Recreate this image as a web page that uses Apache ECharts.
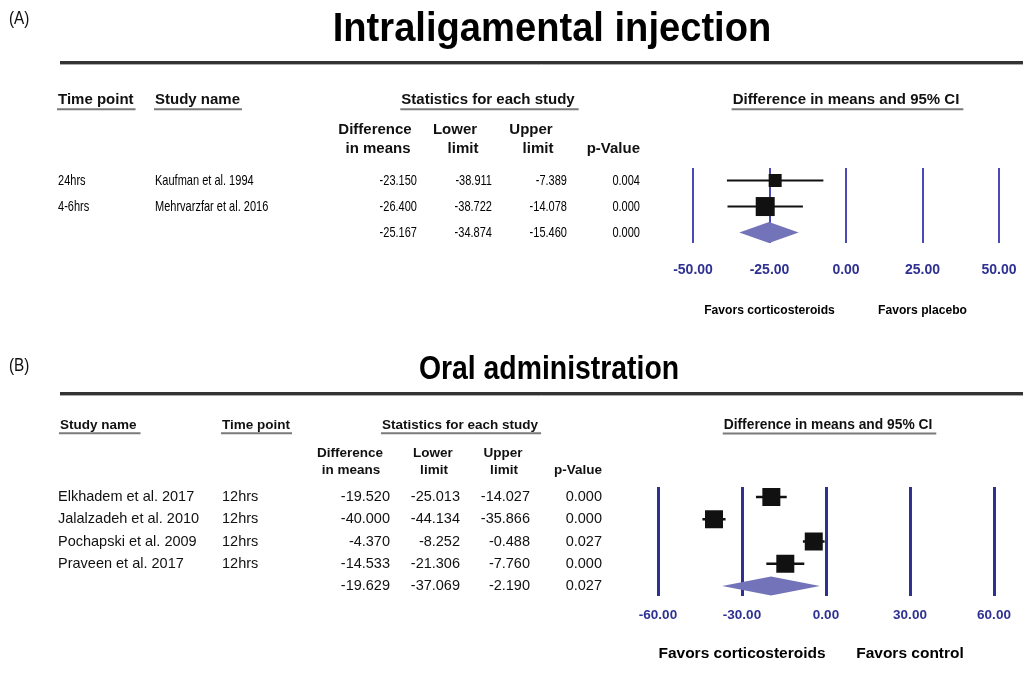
<!DOCTYPE html>
<html><head><meta charset="utf-8">
<script src="https://cdn.jsdelivr.net/npm/echarts@6/dist/echarts.min.js"></script>
<style>html,body{margin:0;padding:0;background:#fff}#c{width:1023px;height:682px}</style>
</head><body><div id="c"></div>
<script>
// ---------- Panel A data: Intraligamental injection ----------
const titleA = 'Intraligamental injection';
const timeA = ['24hrs', '4-6hrs'];
const studyA = ['Kaufman et al. 1994', 'Mehrvarzfar et al. 2016'];
const diffA = [-23.150, -26.400];
const lowerA = [-38.911, -38.722];
const upperA = [-7.389, -14.078];
const pA = ['0.004', '0.000'];
const pooledA = [-25.167, -34.874, -15.460];
const pooledPA = '0.000';
const ticksA = [-50, -25, 0, 25, 50];
const favorsA = ['Favors corticosteroids', 'Favors placebo'];

// ---------- Panel B data: Oral administration ----------
const titleB = 'Oral administration';
const studyB = ['Elkhadem et al. 2017', 'Jalalzadeh et al. 2010', 'Pochapski et al. 2009', 'Praveen et al. 2017'];
const timeB = ['12hrs', '12hrs', '12hrs', '12hrs'];
const diffB = [-19.520, -40.000, -4.370, -14.533];
const lowerB = [-25.013, -44.134, -8.252, -21.306];
const upperB = [-14.027, -35.866, -0.488, -7.760];
const pB = ['0.000', '0.000', '0.027', '0.000'];
const pooledB = [-19.629, -37.069, -2.190];
const pooledPB = '0.027';
const ticksB = [-60, -30, 0, 30, 60];
const favorsB = ['Favors corticosteroids', 'Favors control'];

// ---------- styles ----------
const SANS = '"Liberation Sans", Arial, sans-serif';
const AXIS_BLUE = '#2E3192';
const DIAMOND = '#7373BA';
const squareA = [13, 19];
const squareB = [18, 18, 18, 18];

const chart = echarts.init(document.getElementById('c'), null, {renderer: 'canvas'});

function studyData(diff, lo, hi) {
  return diff.map((d, i) => [d, lo[i], hi[i], i]);
}
function studySeries(gi, data, sizes, lw) {
  return {
    type: 'custom', xAxisIndex: gi, yAxisIndex: gi, z: 5,
    encode: {x: [0, 1, 2], y: 3},
    data: data,
    renderItem: function (params, api) {
      const r = api.value(3);
      const c = api.coord([api.value(0), r]);
      const l = api.coord([api.value(1), r]);
      const h = api.coord([api.value(2), r]);
      const s = sizes[params.dataIndex];
      return {type: 'group', children: [
        {type: 'line', shape: {x1: l[0], y1: l[1], x2: h[0], y2: h[1]}, style: {stroke: '#111', lineWidth: lw}},
        {type: 'rect', shape: {x: c[0] - s / 2, y: c[1] - s / 2, width: s, height: s}, style: {fill: '#111'}}
      ]};
    }
  };
}
function diamondSeries(gi, pooled, row, hgt) {
  return {
    type: 'custom', xAxisIndex: gi, yAxisIndex: gi, z: 5,
    encode: {x: [0, 1, 2], y: 3},
    data: [[pooled[0], pooled[1], pooled[2], row]],
    renderItem: function (params, api) {
      const r = api.value(3);
      const c = api.coord([api.value(0), r]);
      const l = api.coord([api.value(1), r]);
      const h = api.coord([api.value(2), r]);
      return {type: 'polygon', shape: {points: [[l[0], c[1]], [c[0], c[1] - hgt / 2], [h[0], c[1]], [c[0], c[1] + hgt / 2]]},
        style: {fill: DIAMOND}};
    }
  };
}
function xAxisFor(gi, ticks, lineColor, lineW, fs, margin) {
  return {
    type: 'value', gridIndex: gi, min: ticks[0], max: ticks[ticks.length - 1], interval: ticks[1] - ticks[0],
    axisLine: {show: false}, axisTick: {show: false},
    splitLine: {show: true, showMinLine: true, showMaxLine: true, lineStyle: {color: lineColor, width: lineW}},
    axisLabel: {show: true, margin: margin, color: AXIS_BLUE, fontWeight: 'bold', fontSize: fs, fontFamily: SANS,
      formatter: v => v.toFixed(2)}
  };
}
function yAxisFor(gi, min, max) {
  return {type: 'value', gridIndex: gi, inverse: true, min: min, max: max, show: false,
    splitLine: {show: false}, axisLine: {show: false}, axisTick: {show: false}, axisLabel: {show: false}};
}

chart.setOption({
  animation: false,
  backgroundColor: '#fff',
  grid: [
    {left: 693, top: 168, width: 306, height: 75},
    {left: 658, top: 487, width: 336, height: 109}
  ],
  xAxis: [
    xAxisFor(0, ticksA, '#4A4AB2', 2, 14, 20),
    xAxisFor(1, ticksB, '#2E3192', 3, 13.5, 12)
  ],
  yAxis: [
    yAxisFor(0, -0.48, 2.40),
    yAxisFor(1, -0.45, 4.45)
  ],
  series: [
    studySeries(0, studyData(diffA, lowerA, upperA), squareA, 2),
    diamondSeries(0, pooledA, diffA.length, 21),
    studySeries(1, studyData(diffB, lowerB, upperB), squareB, 2.5),
    diamondSeries(1, pooledB, diffB.length, 19)
  ]
});

// ---------- text / table (built from data arrays) ----------
const measureCtx = document.createElement('canvas').getContext('2d');
function textW(s, size, weight, family) {
  measureCtx.font = (weight || 'normal') + ' ' + size + 'px ' + family;
  return measureCtx.measureText(s).width;
}
const G = [];
function txt(x, y, s, o) {
  o = o || {};
  const st = {
    text: s, x: 0, y: 0,
    fontSize: o.size || 13, fontWeight: o.weight || 'normal', fontFamily: o.family || SANS,
    fill: o.color || '#111',
    align: o.align || 'left', textAlign: o.align || 'left',
    verticalAlign: 'middle', textVerticalAlign: 'middle'
  };
  G.push({type: 'text', x: x, y: y, scaleX: o.sx || 1, silent: true, z: 10, style: st});
}
function hline(x1, x2, y, color, w) {
  G.push({type: 'line', silent: true, z: 10, shape: {x1: x1, y1: y, x2: x2, y2: y}, style: {stroke: color, lineWidth: w}});
}
function ulText(x, y, s, size, align, extra) {
  const w = textW(s, size, 'bold', SANS);
  txt(x, y, s, {size: size, weight: 'bold', align: align});
  let x0 = align === 'center' ? x - w / 2 : x;
  hline(x0 - 1, x0 + w + (extra || 4), y + size * 0.62, '#7a7a7a', 2);
}
function rowY(gi, r) {
  return chart.convertToPixel({xAxisIndex: gi, yAxisIndex: gi}, [0, r])[1];
}
function xOf(gi, v) {
  return chart.convertToPixel({xAxisIndex: gi, yAxisIndex: gi}, [v, 0])[0];
}

// ---- Panel A ----
const NA = 0.76; // condensed body text in panel A
const BODYA = {size: 14.5, sx: NA, color: '#000'};
txt(9, 19, '(A)', {size: 18, sx: 0.85});
txt(552, 30, titleA, {size: 41, weight: 'bold', align: 'center', sx: 0.93, color: '#000'});
hline(60, 1023, 62.5, '#333', 3);
hline(60, 1023, 64.5, '#aaa', 1);
ulText(58, 100, 'Time point', 15, 'left', 2);
ulText(155, 100, 'Study name', 15, 'left', 2);
ulText(488, 100, 'Statistics for each study', 15, 'center', 4);
ulText(xOf(0, 0), 100, 'Difference in means and 95% CI', 15, 'center', 4);
const hdrCA = [375, 459, 534];
const valRA = [417, 492, 567, 640];
txt(hdrCA[0], 130, 'Difference', {size: 15, weight: 'bold', align: 'center'});
txt(hdrCA[0] + 3, 149, 'in means', {size: 15, weight: 'bold', align: 'center'});
txt(hdrCA[1] - 4, 130, 'Lower', {size: 15, weight: 'bold', align: 'center'});
txt(hdrCA[1] + 4, 149, 'limit', {size: 15, weight: 'bold', align: 'center'});
txt(hdrCA[2] - 3, 130, 'Upper', {size: 15, weight: 'bold', align: 'center'});
txt(hdrCA[2] + 4, 149, 'limit', {size: 15, weight: 'bold', align: 'center'});
txt(valRA[3], 149, 'p-Value', {size: 15, weight: 'bold', align: 'right'});
function bodyA(x, y, s, align) { txt(x, y, s, Object.assign({align: align || 'left'}, BODYA)); }
for (let i = 0; i < studyA.length; i++) {
  const y = rowY(0, i);
  bodyA(58, y, timeA[i]);
  bodyA(155, y, studyA[i]);
  [diffA[i], lowerA[i], upperA[i]].forEach((v, k) => bodyA(valRA[k], y, v.toFixed(3), 'right'));
  bodyA(valRA[3], y, pA[i], 'right');
}
{
  const y = rowY(0, studyA.length);
  pooledA.forEach((v, k) => bodyA(valRA[k], y, v.toFixed(3), 'right'));
  bodyA(valRA[3], y, pooledPA, 'right');
}
txt(xOf(0, ticksA[1]), 311, favorsA[0], {size: 12.5, weight: 'bold', align: 'center', sx: 0.97, color: '#000'});
txt(xOf(0, ticksA[3]), 311, favorsA[1], {size: 12.5, weight: 'bold', align: 'center', sx: 0.97, color: '#000'});

// ---- Panel B ----
txt(9, 366, '(B)', {size: 18, sx: 0.85});
txt(549, 370, titleB, {size: 33, weight: 'bold', align: 'center', sx: 0.86, color: '#000'});
hline(60, 1023, 393.5, '#333', 3);
hline(60, 1023, 395.5, '#aaa', 1);
ulText(60, 425, 'Study name', 13.5, 'left', 4);
ulText(222, 425, 'Time point', 13.5, 'left', 2);
ulText(460, 425, 'Statistics for each study', 13.5, 'center', 3);
ulText(xOf(1, 0) + 2, 425, 'Difference in means and 95% CI', 13.8, 'center', 4);
const hdrCB = [350, 433, 503];
const valRB = [390, 460, 530, 602];
txt(hdrCB[0], 453, 'Difference', {size: 13.5, weight: 'bold', align: 'center'});
txt(hdrCB[0] + 1, 470, 'in means', {size: 13.5, weight: 'bold', align: 'center'});
txt(hdrCB[1], 453, 'Lower', {size: 13.5, weight: 'bold', align: 'center'});
txt(hdrCB[1] + 1, 470, 'limit', {size: 13.5, weight: 'bold', align: 'center'});
txt(hdrCB[2], 453, 'Upper', {size: 13.5, weight: 'bold', align: 'center'});
txt(hdrCB[2] + 1, 470, 'limit', {size: 13.5, weight: 'bold', align: 'center'});
txt(valRB[3], 470, 'p-Value', {size: 13.5, weight: 'bold', align: 'right'});
for (let i = 0; i < studyB.length; i++) {
  const y = rowY(1, i);
  txt(58, y, studyB[i], {size: 14.5});
  txt(222, y, timeB[i], {size: 14.5});
  [diffB[i], lowerB[i], upperB[i]].forEach((v, k) => txt(valRB[k], y, v.toFixed(3), {size: 14.5, align: 'right'}));
  txt(valRB[3], y, pB[i], {size: 14.5, align: 'right'});
}
{
  const y = rowY(1, studyB.length);
  pooledB.forEach((v, k) => txt(valRB[k], y, v.toFixed(3), {size: 14.5, align: 'right'}));
  txt(valRB[3], y, pooledPB, {size: 14.5, align: 'right'});
}
txt(xOf(1, ticksB[1]), 654, favorsB[0], {size: 15.5, weight: 'bold', align: 'center', color: '#000'});
txt(xOf(1, ticksB[3]), 654, favorsB[1], {size: 15.5, weight: 'bold', align: 'center', color: '#000'});

chart.setOption({graphic: {elements: G}});
</script>
</body></html>
